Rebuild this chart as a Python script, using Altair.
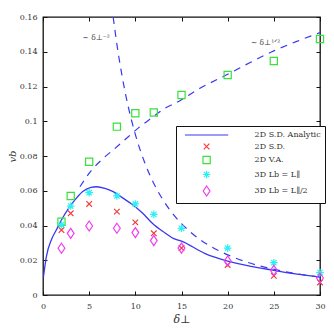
import altair as alt
import pandas as pd

# ---- data ----
delta = [2, 3, 5, 8, 10, 12, 15, 20, 25, 30]
sd_2d = [0.0374, 0.047, 0.0524, 0.048, 0.0418, 0.0355, 0.027, 0.0173, 0.011, 0.0072]
va_2d = [0.0422, 0.057, 0.0767, 0.0969, 0.1046, 0.105, 0.1151, 0.1266, 0.1347, 0.1473]
lb_full = [0.0405, 0.0512, 0.0589, 0.057, 0.0524, 0.0464, 0.0384, 0.027, 0.0186, 0.0129]
lb_half = [0.0269, 0.0355, 0.0397, 0.0384, 0.0359, 0.0313, 0.027, 0.0196, 0.0142, 0.0098]

analytic_x = [0.05, 0.36, 0.9, 1.44, 2.0, 2.9, 3.6, 4.3, 5.2, 5.8, 6.7, 7.6, 8.7, 9.75,
              10.8, 11.9, 13.0, 14.1, 15.0, 17.5, 20, 22.5, 25, 27.5, 30]
analytic_y = [0.0105, 0.022, 0.0317, 0.0374, 0.0432, 0.0508, 0.0556, 0.0595, 0.062, 0.0623,
              0.0614, 0.0595, 0.0556, 0.0518, 0.047, 0.041, 0.0365, 0.0326, 0.031, 0.024,
              0.0195, 0.0165, 0.0142, 0.012, 0.0103]

inv2_x = [7.6, 8, 8.5, 9, 9.5, 10, 11, 12, 13, 14, 15, 16, 18, 20, 22, 24, 26, 28, 30]
inv2_y = [0.16, 0.1444, 0.128, 0.114, 0.1024, 0.0924, 0.0764, 0.0642, 0.0547, 0.0471,
          0.0411, 0.0361, 0.0285, 0.0231, 0.0191, 0.016, 0.0137, 0.0118, 0.0103]

sqrt_x = [4.0, 5.27, 6.53, 7.8, 9.24, 10.5, 11.95, 13.2, 14.3, 17, 20, 22.5, 25, 27.5, 30]
sqrt_y = [0.0623, 0.0719, 0.0787, 0.0844, 0.0911, 0.0969, 0.1026, 0.1075, 0.1103, 0.119,
          0.127, 0.134, 0.1405, 0.146, 0.151]

series_names = ["2D S.D. Analytic", "2D S.D.", "2D V.A.", "3D Lb = L∥", "3D Lb = L∥/2"]
series_colors = ["#3838f2", "#f23c3c", "#3ae03a", "#2ef0f0", "#f03cf0"]
series_shapes = [
    "M-5.4,0L5.4,0",
    "M-0.7,-0.7L0.7,0.7M-0.7,0.7L0.7,-0.7",
    "M-0.9,-0.9L0.9,-0.9L0.9,0.9L-0.9,0.9Z",
    "M-0.95,0L0.95,0M0,-0.95L0,0.95M-0.67,-0.67L0.67,0.67M-0.67,0.67L0.67,-0.67",
    "M0,-1.25L0.85,0L0,1.25L-0.85,0Z",
]

ann_text = ["∼ δ⊥⁻²", "∼ δ⊥¹ᐟ²"]
ann_x = [5.75, 24.1]
ann_y = [0.148, 0.1453]

x_ticks = [0, 5, 10, 15, 20, 25, 30]
y_ticks = [0, 0.02, 0.04, 0.06, 0.08, 0.1, 0.12, 0.14, 0.16]

FONT = "DejaVu Serif"
LINE_BLUE = series_colors[0]

# ---- tables ----
points = pd.DataFrame({
    "delta": delta * 4,
    "vb": sd_2d + va_2d + lb_full + lb_half,
    "series": [series_names[1]] * 10 + [series_names[2]] * 10
              + [series_names[3]] * 10 + [series_names[4]] * 10,
})
analytic = pd.DataFrame({"delta": analytic_x, "vb": analytic_y})
inv2 = pd.DataFrame({"delta": inv2_x, "vb": inv2_y})
sqrtl = pd.DataFrame({"delta": sqrt_x, "vb": sqrt_y})
ann = pd.DataFrame({"delta": ann_x, "vb": ann_y, "text": ann_text})

xs = alt.Scale(domain=[0, 30], nice=False, zero=False)
ys = alt.Scale(domain=[0, 0.16], nice=False, zero=False)

common_lab = dict(labelFont=FONT, labelFontSize=8, labelColor="#333",
                  grid=False, domain=False, labelOverlap=False)

x_lab_axis = alt.Axis(values=x_ticks, ticks=False, labelFlush=False, labelPadding=7,
                      title="δ⊥", titleFont=FONT, titleFontSize=11, titleFontWeight="normal",
                      titleFontStyle="italic", titleColor="#333", titlePadding=3,
                      format="d", **common_lab)
y_lab_axis = alt.Axis(values=y_ticks, ticks=False, labelFlush=False, labelPadding=6,
                      title="vb", titleFont=FONT, titleFontSize=10, titleFontWeight="normal",
                      titleFontStyle="italic", titleColor="#333", titlePadding=2,
                      format="~g", **common_lab)


def tick_axis(vals, orient):
    return alt.Axis(values=vals, orient=orient, labels=False, domain=False, grid=False,
                    ticks=True, tickSize=4, tickColor="#111", tickWidth=1, offset=-4,
                    title=None)


line_an = alt.Chart(analytic).mark_line(color=LINE_BLUE, strokeWidth=1.3,
                                        interpolate="monotone").encode(
    x=alt.X("delta:Q", scale=xs, axis=x_lab_axis),
    y=alt.Y("vb:Q", scale=ys, axis=y_lab_axis),
)

line_inv2 = alt.Chart(inv2).mark_line(color=LINE_BLUE, strokeWidth=1.2, strokeDash=[7, 6],
                                      interpolate="monotone").encode(
    x=alt.X("delta:Q", scale=xs, axis=tick_axis(x_ticks, "bottom")),
    y=alt.Y("vb:Q", scale=ys, axis=tick_axis(y_ticks, "left")),
)

line_sqrt = alt.Chart(sqrtl).mark_line(color=LINE_BLUE, strokeWidth=1.2, strokeDash=[7, 6],
                                       interpolate="monotone").encode(
    x=alt.X("delta:Q", scale=xs, axis=tick_axis(x_ticks, "top")),
    y=alt.Y("vb:Q", scale=ys, axis=tick_axis(y_ticks, "right")),
)

leg = alt.Legend(orient="none", legendX=133, legendY=109, title=None, direction="vertical",
                 labelFont=FONT, labelFontSize=8, labelColor="#333",
                 symbolSize=64, symbolStrokeWidth=1.2, symbolOffset=21.6, labelOffset=43,
                 padding=4, rowPadding=1.5, strokeColor="#111", fillColor="white")

pts = alt.Chart(points).mark_point(filled=False, size=64, strokeWidth=1.2, opacity=1).encode(
    x=alt.X("delta:Q", scale=xs, axis=None),
    y=alt.Y("vb:Q", scale=ys, axis=None),
    color=alt.Color("series:N", scale=alt.Scale(domain=series_names, range=series_colors),
                    legend=leg),
    shape=alt.Shape("series:N", scale=alt.Scale(domain=series_names, range=series_shapes),
                    legend=leg),
)

txt = alt.Chart(ann).mark_text(font=FONT, fontSize=7.5, color="#444").encode(
    x=alt.X("delta:Q", scale=xs, axis=None),
    y=alt.Y("vb:Q", scale=ys, axis=None),
    text="text:N",
)

chart = alt.layer(line_an, line_inv2, line_sqrt, pts, txt).resolve_axis(
    x="independent", y="independent"
).properties(
    width=277, height=278,
    autosize=alt.AutoSizeParams(type="none"),
    padding={"left": 35, "top": 9, "right": 6, "bottom": 32},
).configure_view(stroke="#111", strokeWidth=1.3)

chart.save("out.html", embed_options={"renderer": "svg", "actions": False})
